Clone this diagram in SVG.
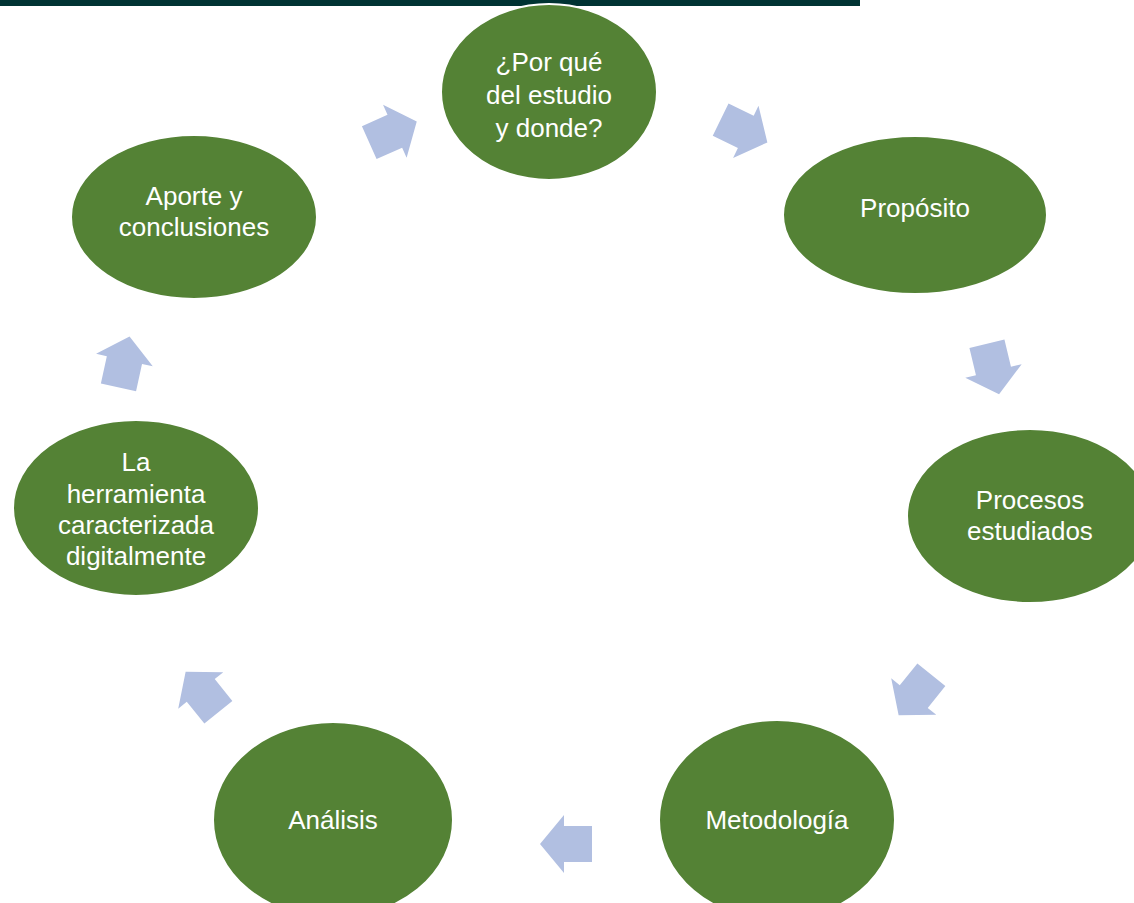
<svg xmlns="http://www.w3.org/2000/svg" width="1134" height="903" viewBox="0 0 1134 903">
<style>
.n{fill:#548235;stroke:#ffffff;stroke-width:2}
.t{fill:#ffffff;font-family:"Liberation Sans",Arial,sans-serif;font-size:26px;text-anchor:middle}
.a{fill:#b1bfe1}
</style>
<defs>
<polygon id="arr" points="-26,-18 2,-18 2,-29 26,0 2,29 2,18 -26,18"/>
</defs>
<rect x="0" y="0" width="1134" height="903" fill="#ffffff"/>
<rect x="0" y="0" width="860" height="6" fill="#003333"/>
<g id="connectors">
<use href="#arr" class="a" transform="translate(393,132) rotate(-24)"/>
<use href="#arr" class="a" transform="translate(744,131) rotate(26)"/>
<use href="#arr" class="a" transform="translate(993,369) rotate(76.5)"/>
<use href="#arr" class="a" transform="translate(915,695) rotate(129)"/>
<use href="#arr" class="a" transform="translate(566,844) rotate(180)"/>
<use href="#arr" class="a" transform="translate(202,692) rotate(231)"/>
<use href="#arr" class="a" transform="translate(124,362) rotate(-77.7)"/>
</g>
<g id="n1">
<ellipse class="n" cx="549" cy="92" rx="108" ry="88"/>
<text class="t" x="549" y="71">¿Por qué</text>
<text class="t" x="549" y="104">del estudio</text>
<text class="t" x="549" y="137">y donde?</text>
</g>
<g id="n2">
<ellipse class="n" cx="915" cy="215" rx="132" ry="79"/>
<text class="t" x="915" y="217">Propósito</text>
</g>
<g id="n3">
<ellipse class="n" cx="1030" cy="516" rx="123" ry="87"/>
<text class="t" x="1030" y="509">Procesos</text>
<text class="t" x="1030" y="540">estudiados</text>
</g>
<g id="n4">
<ellipse class="n" cx="777" cy="820" rx="118" ry="100"/>
<text class="t" x="777" y="829">Metodología</text>
</g>
<g id="n5">
<ellipse class="n" cx="333" cy="820" rx="120" ry="98"/>
<text class="t" x="333" y="829">Análisis</text>
</g>
<g id="n6">
<ellipse class="n" cx="136" cy="508" rx="123" ry="88"/>
<text class="t" x="136" y="471">La</text>
<text class="t" x="136" y="503">herramienta</text>
<text class="t" x="136" y="534">caracterizada</text>
<text class="t" x="136" y="565">digitalmente</text>
</g>
<g id="n7">
<ellipse class="n" cx="194" cy="217" rx="123" ry="82"/>
<text class="t" x="194" y="205">Aporte y</text>
<text class="t" x="194" y="236">conclusiones</text>
</g>
</svg>
